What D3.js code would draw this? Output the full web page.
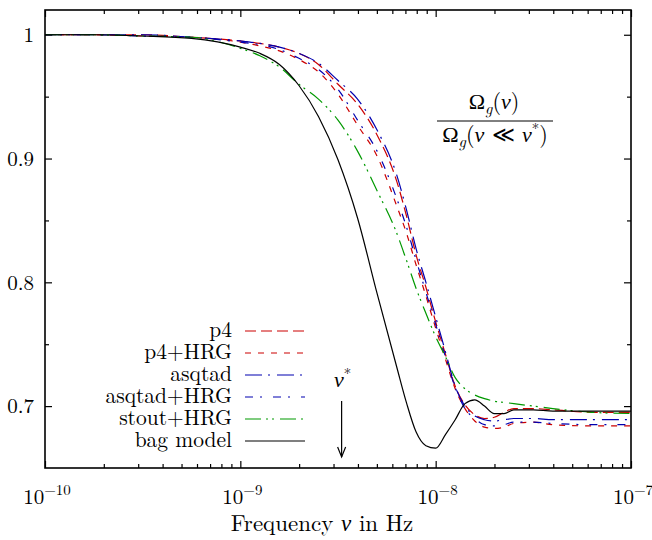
<!DOCTYPE html>
<html><head><meta charset="utf-8">
<script src="https://cdn.jsdelivr.net/npm/d3@7"></script>
<style>body{margin:0;background:#fff}</style>
</head><body><svg id="c" width="652" height="540"></svg>
<script>
// frequency grid (log10 of Hz)
const logFreq = [-10,-9.75,-9.5,-9.25,-9,-8.9,-8.8,-8.7,-8.6,-8.5,-8.4,-8.3,-8.2,-8.15,-8.1,-8.05,-8,-7.95,-7.9,-7.85,-7.8,-7.75,-7.7,-7.65,-7.6,-7.5,-7.4,-7.2,-7];
const p4        = [1.000,1.000,1.000,0.998,0.995,0.993,0.990,0.985,0.976,0.960,0.944,0.919,0.882,0.854,0.822,0.796,0.768,0.742,0.716,0.701,0.693,0.690,0.691,0.695,0.698,0.698,0.697,0.695,0.695];
const p4HRG     = [1.000,1.000,0.999,0.998,0.994,0.991,0.987,0.980,0.970,0.952,0.927,0.902,0.862,0.840,0.814,0.789,0.763,0.738,0.714,0.698,0.688,0.683,0.682,0.683,0.686,0.687,0.685,0.684,0.684];
const asqtad    = [1.000,1.000,1.000,0.998,0.995,0.993,0.990,0.985,0.977,0.963,0.948,0.923,0.887,0.859,0.827,0.800,0.772,0.744,0.716,0.700,0.692,0.689,0.688,0.689,0.690,0.690,0.689,0.689,0.689];
const asqtadHRG = [1.000,1.000,0.999,0.998,0.994,0.992,0.988,0.981,0.972,0.956,0.931,0.906,0.868,0.845,0.818,0.792,0.766,0.740,0.715,0.698,0.690,0.685,0.684,0.685,0.687,0.687,0.686,0.685,0.685];
const stoutHRG  = [1.000,1.000,0.999,0.998,0.989,0.983,0.974,0.960,0.948,0.931,0.906,0.874,0.840,0.818,0.795,0.775,0.756,0.740,0.723,0.714,0.709,0.706,0.704,0.703,0.702,0.700,0.698,0.695,0.694];
const bagModel  = [1.000,1.000,0.999,0.997,0.990,0.985,0.976,0.959,0.934,0.899,0.852,0.791,0.732,0.703,0.679,0.668,0.666,0.677,0.689,0.702,0.705,0.700,0.694,0.694,0.697,0.697,0.696,0.696,0.696];

const seriesNames = ["p4","p4+HRG","asqtad","asqtad+HRG","stout+HRG","bag model"];
const seriesValues = [p4, p4HRG, asqtad, asqtadHRG, stoutHRG, bagModel];
const xMajorExp = [-10,-9,-8,-7];
const yMajor = [0.7,0.8,0.9,1];
const yLabels = ["0.7","0.8","0.9","1"];
const yMinor = [0.75,0.85,0.95];
const nuStar = 3.3e-9;

const styles = [
  {color:"#cc0000", dash:"11,5"},
  {color:"#cc0000", dash:"6,7"},
  {color:"#0000b0", dash:"17,6,2,7"},
  {color:"#0000b0", dash:"8,7,2,11"},
  {color:"#009900", dash:"16,5,2,4,2,6"},
  {color:"#000000", dash:null}
];

const L=45, R=631, T=10, B=468;
const FONT = '"Latin Modern Roman", "Liberation Serif", monospace';
const GREEK = '"Liberation Serif", monospace';
const svg = d3.select("#c");
const x = d3.scaleLog().domain([1e-10,1e-7]).range([L,R]);
const y = d3.scaleLinear().domain([0.65,1.02]).range([B,T]);

const xMajor = xMajorExp.map(e=>Math.pow(10,e));
const xMinor = [];
for (let e=-10;e<-7;e++) for (let k=2;k<=9;k++) xMinor.push(k*Math.pow(10,e));

function styleAxis(g){ g.select(".domain").remove(); g.selectAll("line").attr("stroke","#000").attr("stroke-width",1.2); }

svg.append("g").attr("transform",`translate(0,${B})`).call(d3.axisBottom(x).tickValues(xMajor).tickSize(-7).tickFormat(()=>"")).call(styleAxis);
svg.append("g").attr("transform",`translate(0,${B})`).call(d3.axisBottom(x).tickValues(xMinor).tickSize(-4).tickFormat(()=>"")).call(styleAxis);
svg.append("g").attr("transform",`translate(0,${T})`).call(d3.axisTop(x).tickValues(xMajor).tickSize(-7).tickFormat(()=>"")).call(styleAxis);
svg.append("g").attr("transform",`translate(0,${T})`).call(d3.axisTop(x).tickValues(xMinor).tickSize(-4).tickFormat(()=>"")).call(styleAxis);
svg.append("g").attr("transform",`translate(${L},0)`).call(d3.axisLeft(y).tickValues(yMajor).tickSize(-7).tickFormat(()=>"")).call(styleAxis);
svg.append("g").attr("transform",`translate(${L},0)`).call(d3.axisLeft(y).tickValues(yMinor).tickSize(-4).tickFormat(()=>"")).call(styleAxis);
svg.append("g").attr("transform",`translate(${R},0)`).call(d3.axisRight(y).tickValues(yMajor).tickSize(-7).tickFormat(()=>"")).call(styleAxis);
svg.append("g").attr("transform",`translate(${R},0)`).call(d3.axisRight(y).tickValues(yMinor).tickSize(-4).tickFormat(()=>"")).call(styleAxis);

function txt(xx,yy,size,anchor){
  return svg.append("text").attr("x",xx).attr("y",yy).attr("font-size",size)
    .attr("text-anchor",anchor||"middle").attr("font-family",FONT).attr("fill","#000");
}
function greek(t, ch, italic){
  const s = t.append("tspan").attr("font-family",GREEK).text(ch);
  if (italic) s.attr("font-style","italic");
  return s;
}

yMajor.forEach((v,i)=>{ txt(L-11,y(v),21,"end").attr("dy","0.35em").text(yLabels[i]); });
xMajorExp.forEach(e=>{
  const t = txt(x(Math.pow(10,e))+2,504,21,"middle");
  t.append("tspan").text("10");
  t.append("tspan").attr("dy",-9).attr("font-size",15).text("\u2212"+Math.abs(e));
});
const xt = txt(322,531,23,"middle");
xt.append("tspan").text("Frequency ");
greek(xt,"\u03BD",true);
xt.append("tspan").text(" in Hz");

const line = d3.line().x(d=>x(d[0])).y(d=>y(d[1])).curve(d3.curveMonotoneX);
const plot = svg.append("g");
seriesValues.forEach((vals,i)=>{
  const pts = logFreq.map((e,j)=>[Math.pow(10,e), vals[j]]);
  plot.append("path").datum(pts).attr("d",line).attr("fill","none")
    .attr("stroke",styles[i].color).attr("stroke-width",1.2)
    .attr("stroke-dasharray",styles[i].dash);
});

svg.append("rect").attr("x",L).attr("y",T).attr("width",R-L).attr("height",B-T)
  .attr("fill","none").attr("stroke","#000").attr("stroke-width",1.6);

const legY0 = 330, legDy = 22;
seriesNames.forEach((n,i)=>{
  const yy = legY0 + i*legDy;
  txt(232,yy,21.5,"end").attr("dy","0.33em").text(n);
  svg.append("line").attr("x1",245).attr("x2",305).attr("y1",yy+1).attr("y2",yy+1)
    .attr("stroke",styles[i].color).attr("stroke-width",1.2).attr("stroke-dasharray",styles[i].dash);
});

const xs = x(nuStar);
const nt = txt(xs+1,387,22,"middle");
greek(nt,"\u03BD",true);
nt.append("tspan").attr("dy",-8).attr("font-size",15).text("*");
svg.append("line").attr("x1",xs).attr("x2",xs).attr("y1",401).attr("y2",457).attr("stroke","#000").attr("stroke-width",1.2);
svg.append("path").attr("d",`M${xs-4},${447} L${xs},${457} L${xs+4},${447}`).attr("fill","none").attr("stroke","#000").attr("stroke-width",1.2);

function omega(parts, cx, yy){
  const t = txt(cx,yy,22,"middle");
  greek(t,"\u03A9",false);
  t.append("tspan").attr("dy",5).attr("font-size",16).attr("font-style","italic").text("g");
  t.append("tspan").attr("dy",-5).text("(");
  parts.forEach(p=>{
    const s = p.g ? greek(t,p.t,true) : t.append("tspan").text(p.t);
    if(p.sup) s.attr("dy",-8).attr("font-size",15);
    if(p.down) s.attr("dy",8);
  });
}
omega([{t:"\u03BD",g:true},{t:")"}],494,109);
svg.append("line").attr("x1",437).attr("x2",553).attr("y1",121).attr("y2",121).attr("stroke","#000").attr("stroke-width",1);
omega([{t:"\u03BD",g:true},{t:" \u226A "},{t:"\u03BD",g:true},{t:"*",sup:true},{t:")",down:true}],495,142);
</script></body></html>
